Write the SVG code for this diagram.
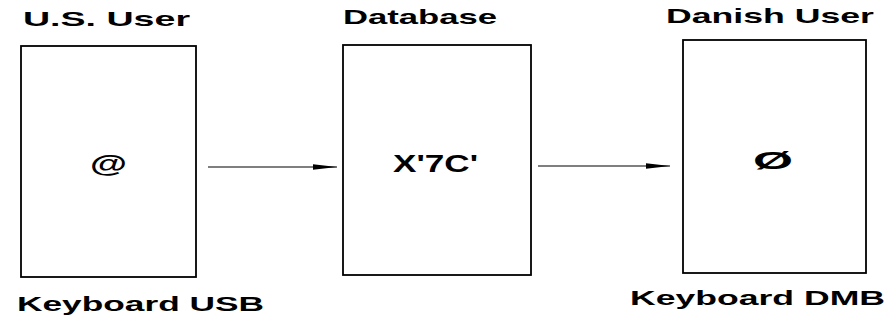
<svg xmlns="http://www.w3.org/2000/svg" width="896" height="322" viewBox="0 0 896 322">
  <style>
    .box { fill: #fff; stroke: #000; stroke-width: 1.8; }
    .lbl { font-family: "Liberation Sans", Arial, sans-serif; font-weight: bold; font-size: 21px; fill: #000; }
    .sym { font-family: "Liberation Sans", Arial, sans-serif; font-weight: bold; font-size: 23px; fill: #000; }
    .conn { stroke: #000; stroke-width: 1.2; fill: none; marker-end: url(#head); }
  </style>
  <defs>
    <marker id="head" viewBox="0 0 24 8" refX="24" refY="4" markerWidth="24" markerHeight="8" markerUnits="userSpaceOnUse" orient="auto">
      <path d="M0,1.2 L24,4 L0,6.8 Z" fill="#000"/>
    </marker>
  </defs>
  <rect width="896" height="322" fill="#fff"/>

  <g id="us-user">
    <text class="lbl" x="23" y="26" textLength="167" lengthAdjust="spacingAndGlyphs">U.S. User</text>
    <rect class="box" x="21" y="46" width="175" height="231"/>
    <text class="sym" x="90" y="172" textLength="37" lengthAdjust="spacingAndGlyphs">@</text>
    <text class="lbl" x="17" y="311" font-size="22" textLength="247" lengthAdjust="spacingAndGlyphs">Keyboard USB</text>
  </g>

  <g id="database">
    <text class="lbl" x="343" y="24" textLength="154" lengthAdjust="spacingAndGlyphs">Database</text>
    <rect class="box" x="343" y="45" width="188" height="230"/>
    <text class="sym" x="393" y="172" textLength="85" lengthAdjust="spacingAndGlyphs">X'7C'</text>
  </g>

  <g id="danish-user">
    <text class="lbl" x="666" y="23" textLength="208" lengthAdjust="spacingAndGlyphs">Danish User</text>
    <rect class="box" x="683" y="40" width="183" height="233"/>
    <text class="sym" x="753" y="169" textLength="40" lengthAdjust="spacingAndGlyphs">Ø</text>
    <text class="lbl" x="630" y="305" font-size="22" textLength="255" lengthAdjust="spacingAndGlyphs">Keyboard DMB</text>
  </g>

  <g id="connectors">
    <line class="conn" x1="208" y1="167" x2="337" y2="167"/>
    <line class="conn" x1="538" y1="166" x2="670" y2="166"/>
  </g>
</svg>
